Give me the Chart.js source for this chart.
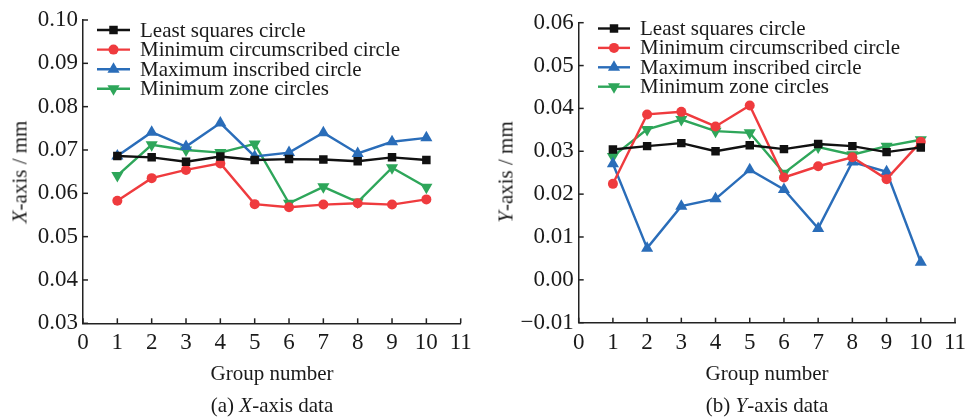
<!DOCTYPE html>
<html>
<head>
<meta charset="utf-8">
<script src="https://cdn.jsdelivr.net/npm/chart.js@4.4.0/dist/chart.umd.min.js"></script>
<style>
  body { margin: 0; background: #fff; overflow: hidden; }
  #wrap { position: relative; width: 965px; height: 418px; overflow: hidden; font-family: "Liberation Serif", serif; color: #1a1a1a; }
  canvas { position: absolute; top: 0; }
  .lbl { position: absolute; font-size: 21px; white-space: nowrap; transform: translate(-50%, -50%); }
  .rot { transform: translate(-50%, -50%) rotate(-90deg); }
</style>
</head>
<body>
<div id="wrap">
  <canvas id="chartX" width="480" height="418" style="left:0;width:480px;height:418px"></canvas>
  <canvas id="chartY" width="500" height="418" style="left:480px;width:500px;height:418px"></canvas>
  <div class="lbl rot" style="left:20px;top:172px"><i>X</i>-axis / mm</div>
  <div class="lbl rot" style="left:506px;top:172px"><i>Y</i>-axis / mm</div>
  <div class="lbl" style="left:272px;top:373px">Group number</div>
  <div class="lbl" style="left:767px;top:373px">Group number</div>
  <div class="lbl" style="left:272px;top:405px">(a) <i>X</i>-axis data</div>
  <div class="lbl" style="left:767px;top:405px">(b) <i>Y</i>-axis data</div>
</div>
<script>
// group numbers on the x axis
const groups = [1, 2, 3, 4, 5, 6, 7, 8, 9, 10];
const seriesNames = ["Least squares circle", "Minimum circumscribed circle", "Maximum inscribed circle", "Minimum zone circles"];

// (a) X-axis data, mm
const xLeastSquares = [0.0686, 0.0683, 0.0673, 0.0685, 0.0677, 0.0679, 0.0678, 0.0674, 0.0683, 0.0677];
const xMinCircum = [0.0583, 0.0635, 0.0654, 0.0669, 0.0575, 0.0568, 0.0574, 0.0577, 0.0574, 0.0586];
const xMaxInscribed = [0.0686, 0.0741, 0.0708, 0.0762, 0.0685, 0.0694, 0.0740, 0.0692, 0.0719, 0.0728];
const xMinZone = [0.0641, 0.0712, 0.0700, 0.0694, 0.0714, 0.0577, 0.0615, 0.0580, 0.0659, 0.0614];

// (b) Y-axis data, mm
const yLeastSquares = [0.0304, 0.0312, 0.0319, 0.0300, 0.0314, 0.0305, 0.0317, 0.0312, 0.0298, 0.0309];
const yMinCircum = [0.0224, 0.0386, 0.0392, 0.0358, 0.0407, 0.0239, 0.0265, 0.0286, 0.0235, 0.0322];
const yMaxInscribed = [0.0271, 0.0074, 0.0172, 0.0189, 0.0257, 0.0211, 0.0120, 0.0275, 0.0252, 0.0041];
const yMinZone = [0.0288, 0.0351, 0.0374, 0.0347, 0.0343, 0.0249, 0.0310, 0.0292, 0.0312, 0.0327];

const styles = [
  { color: "#111111", pointStyle: "rect", radius: 6, rotation: 0 },
  { color: "#ef3b3e", pointStyle: "circle", radius: 5, rotation: 0 },
  { color: "#2a6db9", pointStyle: "triangle", radius: 7, rotation: 0 },
  { color: "#2ea65a", pointStyle: "triangle", radius: 7, rotation: 180 },
];

const FONT = "Liberation Serif";
const TEXT = "#1a1a1a";
const TICK_SIZE = 23;

function makeDatasets(seriesList) {
  return seriesList.map((vals, i) => ({
    label: seriesNames[i],
    data: groups.map((g, j) => ({ x: g, y: vals[j] })),
    borderColor: styles[i].color,
    backgroundColor: styles[i].color,
    borderWidth: 2.4,
    pointStyle: styles[i].pointStyle,
    pointRadius: styles[i].radius,
    pointRotation: styles[i].rotation,
    pointBorderWidth: 0,
    tension: 0,
  }));
}

// legend drawn inside the plot: short line with marker, then the label
const innerLegend = {
  id: "innerLegend",
  afterDraw(chart, args, opts) {
    const ctx = chart.ctx;
    ctx.save();
    ctx.font = "21px '" + FONT + "'";
    ctx.textBaseline = "middle";
    chart.data.datasets.forEach((ds, i) => {
      const y = opts.y0 + i * opts.dy;
      ctx.strokeStyle = ds.borderColor;
      ctx.lineWidth = 2.4;
      ctx.beginPath();
      ctx.moveTo(opts.x0, y);
      ctx.lineTo(opts.x1, y);
      ctx.stroke();
      ctx.fillStyle = ds.backgroundColor;
      Chart.helpers.drawPoint(ctx, {
        pointStyle: ds.pointStyle,
        rotation: ds.pointRotation,
        radius: ds.pointRadius,
        borderWidth: 0,
      }, (opts.x0 + opts.x1) / 2, y);
      ctx.fillStyle = TEXT;
      ctx.fillText(ds.label, opts.tx, y + 1);
    });
    ctx.restore();
  },
};

// short tick marks pointing into the plot
const innerTicks = {
  id: "innerTicks",
  afterDraw(chart) {
    const ctx = chart.ctx;
    const area = chart.chartArea;
    ctx.save();
    ctx.strokeStyle = "#222";
    ctx.lineWidth = 1.5;
    chart.scales.x.ticks.forEach((t) => {
      const px = chart.scales.x.getPixelForValue(t.value);
      ctx.beginPath();
      ctx.moveTo(px, area.bottom);
      ctx.lineTo(px, area.bottom - 5);
      ctx.stroke();
    });
    chart.scales.y.ticks.forEach((t) => {
      const py = chart.scales.y.getPixelForValue(t.value);
      ctx.beginPath();
      ctx.moveTo(area.left, py);
      ctx.lineTo(area.left + 5, py);
      ctx.stroke();
    });
    ctx.restore();
  },
};

function makeChart(id, seriesList, yMin, yMax, box, legendPos) {
  return new Chart(document.getElementById(id), {
    type: "line",
    data: { datasets: makeDatasets(seriesList) },
    plugins: [innerTicks, innerLegend],
    options: {
      responsive: false,
      animation: false,
      layout: { padding: { left: 0, top: box.top, right: box.right, bottom: 0 } },
      plugins: {
        legend: { display: false },
        tooltip: { enabled: false },
        innerLegend: legendPos,
      },
      scales: {
        x: {
          type: "linear",
          min: 0,
          max: 11,
          grid: { display: false, drawTicks: false },
          border: { color: "#222", width: 1.5 },
          ticks: {
            stepSize: 1,
            padding: 6,
            color: TEXT,
            font: { family: FONT, size: TICK_SIZE },
            maxRotation: 0,
            autoSkip: false,
          },
          afterFit: (scale) => { scale.height = box.xHeight; },
        },
        y: {
          min: yMin,
          max: yMax,
          grid: { display: false, drawTicks: false },
          border: { color: "#222", width: 1.5 },
          ticks: {
            stepSize: 0.01,
            padding: 5,
            color: TEXT,
            font: { family: FONT, size: TICK_SIZE },
            callback: (v) => {
              const s = Math.abs(v).toFixed(2);
              return v < -1e-9 ? "\u2212" + s : s;
            },
          },
          afterFit: (scale) => { scale.width = box.yWidth; },
        },
      },
    },
  });
}

makeChart("chartX", [xLeastSquares, xMinCircum, xMaxInscribed, xMinZone], 0.03, 0.10,
  { top: 20, right: 19.3, xHeight: 94.7, yWidth: 83 },
  { x0: 97, x1: 130, tx: 140, y0: 30, dy: 19.6 });

// right canvas runs past the window edge so the "11" label is clipped like the original
makeChart("chartY", [yLeastSquares, yMinCircum, yMaxInscribed, yMinZone], -0.01, 0.06,
  { top: 22.7, right: 25, xHeight: 95.3, yWidth: 98.7 },
  { x0: 118, x1: 150, tx: 160, y0: 28.5, dy: 19.4 });
</script>
</body>
</html>
